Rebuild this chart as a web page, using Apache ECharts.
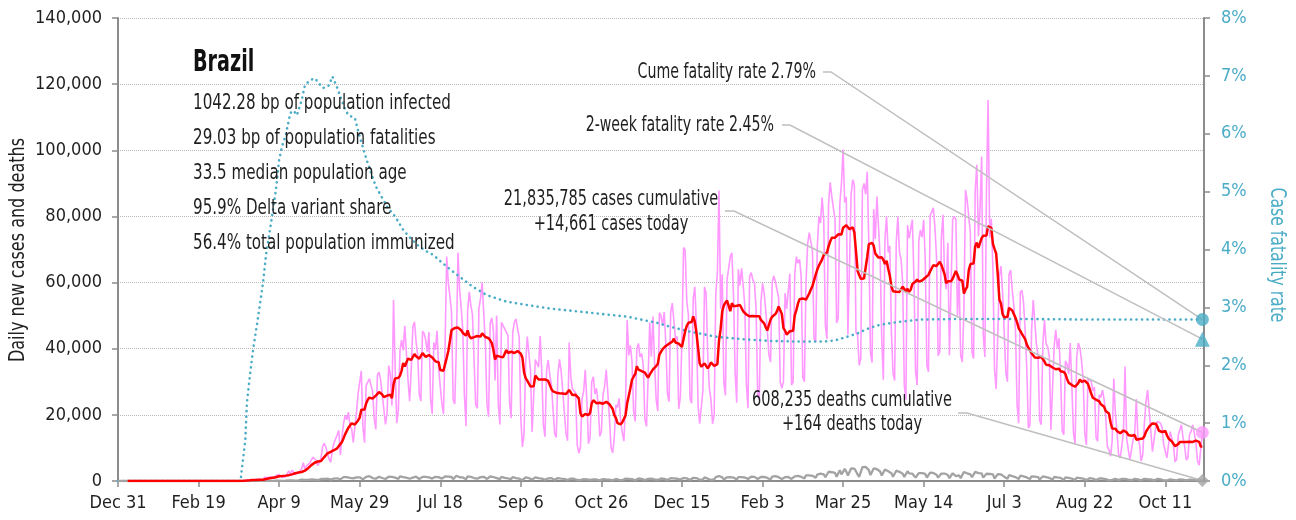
<!DOCTYPE html>
<html>
<head>
<meta charset="utf-8">
<script src="https://cdn.jsdelivr.net/npm/echarts@6/dist/echarts.min.js"></script>
<style>
  html, body { margin: 0; padding: 0; background: #ffffff; }
  #chart { width: 1296px; height: 520px; }
</style>
</head>
<body>
<div id="chart"></div>
<script>
// Brazil COVID-19: daily cases, 7-day average, daily deaths, cumulative case fatality rate

const START_UTC = Date.UTC(2019, 11, 31);   // first day on the x axis
const DAY_COUNT = 675;                        // categories on the x axis
const MONTHS = ['Jan','Feb','Mar','Apr','May','Jun','Jul','Aug','Sep','Oct','Nov','Dec'];

// Daily new cases, thousands (one row per week, Tue..Mon)
const DAILY_CASES_K = [
  0,0,0,0,0,0,0,
  0,0,0,0,0,0,0,
  0,0,0,0,0,0,0,
  0,0,0,0,0,0,0,
  0,0,0,0,0,0,0,
  0,0,0,0,0,0,0,
  0,0,0,0,0,0,0,
  0,0,0,0,0,0,0,
  0,0.001,0,0,0.001,0,0,
  0,0.001,0.005,0.005,0.006,0.007,0.005,
  0.009,0.018,0.025,0.021,0.023,0.079,0.034,
  0.057,0.137,0.193,0.283,0.224,0.418,0.345,
  0.310,0.232,0.482,0.502,0.487,0.352,0.323,
  1.138,1.119,1.074,1.146,1.222,0.852,0.926,
  1.661,2.210,1.930,1.781,1.089,1.442,1.261,
  1.832,3.058,2.105,3.257,2.917,2.055,1.927,
  2.5,2.7,3.7,5.5,3.5,4.6,4.6,
  5.4,6.3,7.2,7.0,6.2,4.6,4.1,
  6.9,10.5,11.4,10.2,10.6,6.6,5.6,
  9.3,11.4,11.7,13.9,15.3,7.9,13.1,
  17.4,19.9,18.5,20.8,16.5,15.8,11.7,
  16.3,20.6,26.4,26.9,33.3,16.4,11.6,
  28.9,28.6,30.9,30.8,27.1,18.9,15.6,
  32.1,32.9,30.4,25.9,21.7,17.1,20.6,
  34.9,32.2,22.8,54.8,34.7,17.5,21.4,
  39.4,42.7,39.5,46.9,38.7,30.5,24.1,
  33.8,46.7,48.1,42.2,38.0,26.0,24.2,
  45.3,44.6,42.6,39.0,45.0,24.8,20.3,
  41.9,39.7,45.4,34.2,28.5,23.5,20.2,
  41.0,67.9,59.9,55.9,51.1,24.6,23.3,
  40.8,69.1,57.8,52.4,45.4,25.8,16.6,
  51.6,57.2,53.1,50.2,49.9,23.0,22.0,
  52.2,55.2,60.1,50.6,41.6,23.1,19.4,
  47.8,49.3,45.3,30.4,50.0,23.4,17.1,
  48.0,47.5,46.0,45.0,44.0,24.0,19.0,
  45.0,48.0,49.0,46.0,43.5,19.0,10.3,
  14.3,35.8,43.7,43.4,33.5,14.8,15.2,
  36.7,36.8,34.4,43.8,33.1,16.9,13.4,
  33.5,36.6,31.9,29.0,28.4,14.3,13.2,
  32.1,36.8,33.4,27.2,26.7,14.5,12.2,
  41.9,31.6,27.8,27.7,26.7,10.9,8.4,
  10.2,24.8,27.2,33.6,24.1,11.3,13.3,
  30.0,31.5,26.3,28.0,23.0,13.5,15.0,
  26.1,28.6,33.6,26.7,18.9,10.1,8.5,
  13.0,23.0,22.3,25.0,18.0,14.6,12.1,
  23.9,48.7,38.0,41.0,36.0,21.0,18.0,
  40.0,41.6,37.5,38.5,35.0,18.6,16.5,
  31.0,47.9,37.6,49.7,36.0,24.5,21.1,
  50.9,49.9,46.9,51.1,41.5,26.4,24.0,
  51.1,53.8,53.3,43.0,43.7,21.8,25.2,
  42.9,70.6,69.8,54.4,50.2,25.0,23.5,
  55.2,58.7,46.7,22.8,17.3,17.6,27.2,
  58.7,56.8,38.0,28.0,24.6,17.3,20.0,
  56.6,63.0,87.8,52.0,62.5,29.8,25.9,
  61.0,60.4,67.8,69.0,56.0,33.0,23.7,
  64.0,59.1,64.3,59.1,53.1,29.1,22.0,
  61.9,63.0,60.8,59.9,52.0,26.4,24.6,
  54.1,59.8,56.9,51.5,45.5,38.0,36.0,
  60.0,62.0,60.3,57.8,55.4,30.0,28.0,
  30.0,56.8,52.0,57.6,62.7,29.0,30.0,
  62.5,67.8,65.9,67.0,61.8,31.4,30.0,
  59.9,71.7,75.1,75.3,69.6,43.0,42.0,
  70.8,80.0,78.0,85.7,79.0,47.0,43.0,
  83.9,90.3,86.0,85.7,79.1,47.8,49.3,
  84.0,89.9,100.2,84.2,85.9,44.3,44.5,
  86.7,91.1,89.5,45.0,44.0,35.0,37.0,
  88.0,90.0,86.7,93.5,71.0,38.9,35.8,
  82.2,73.2,86.0,85.7,67.6,42.9,30.6,
  73.2,80.0,69.1,71.1,45.1,32.6,30.4,
  72.1,80.0,69.0,67.0,60.0,28.9,24.6,
  77.4,73.4,73.8,79.0,61.0,33.0,29.0,
  72.7,75.9,73.7,79.0,67.0,35.0,33.0,
  80.1,80.0,82.6,76.9,67.5,37.9,39.0,
  73.5,80.5,62.0,58.0,72.0,38.0,38.6,
  79.0,80.0,79.0,50.0,62.0,37.9,36.0,
  52.0,88.0,85.0,85.0,75.0,39.0,37.0,
  88.0,95.6,74.0,82.3,98.1,44.2,37.5,
  87.8,115.2,73.6,79.3,64.1,33.7,27.8,
  43.8,62.0,65.0,57.0,57.0,33.0,30.0,
  62.5,63.8,57.7,53.0,45.6,23.0,17.5,
  57.0,57.7,54.0,45.6,34.3,16.0,17.0,
  45.6,54.7,48.1,41.4,37.8,18.4,17.0,
  41.4,48.7,41.4,40.6,37.6,15.4,15.1,
  40.7,45.7,40.1,43.2,32.0,15.1,14.0,
  36.3,35.3,32.3,41.7,28.3,14.4,11.2,
  37.6,41.7,40.2,36.3,31.0,14.5,10.9,
  31.0,31.5,30.0,27.3,28.4,13.2,12.0,
  26.1,25.3,27.5,24.7,19.4,10.5,9.5,
  7.5,12.0,31.0,20.5,15.0,8.0,7.0,
  10.6,14.8,34.6,13.0,9.5,6.5,6.6,
  12.5,14.5,24.8,13.0,11.0,6.0,8.0,
  17.5,24.0,27.5,21.0,15.0,8.9,9.0,
  16.0,18.0,18.4,17.5,16.0,11.0,9.0,
  7.0,11.0,14.9,15.0,11.0,5.8,6.5,
  13.8,15.5,17.0,13.0,10.5,6.3,7.0,
  14.0,15.0,17.0,14.5,11.5,6.0,4.8,
  4.3,14.661
];

// Daily new deaths, thousands (same weekly rows)
const DAILY_DEATHS_K = [
  0,0,0,0,0,0,0,
  0,0,0,0,0,0,0,
  0,0,0,0,0,0,0,
  0,0,0,0,0,0,0,
  0,0,0,0,0,0,0,
  0,0,0,0,0,0,0,
  0,0,0,0,0,0,0,
  0,0,0,0,0,0,0,
  0,0,0,0,0,0,0,
  0,0,0,0,0,0,0,
  0,0,0,0,0,0,0,
  0.001,0.003,0.002,0.005,0.007,0.007,0.009,
  0.012,0.011,0.020,0.015,0.022,0.022,0.023,
  0.042,0.039,0.059,0.058,0.073,0.054,0.067,
  0.114,0.133,0.141,0.115,0.068,0.099,0.105,
  0.204,0.204,0.188,0.217,0.213,0.115,0.113,
  0.166,0.165,0.407,0.357,0.346,0.189,0.338,
  0.474,0.449,0.435,0.428,0.421,0.275,0.296,
  0.600,0.615,0.610,0.751,0.730,0.496,0.396,
  0.881,0.749,0.844,0.824,0.816,0.485,0.674,
  1.179,0.888,1.188,1.001,0.965,0.653,0.807,
  1.039,1.086,1.156,1.124,0.956,0.480,0.623,
  1.262,1.349,1.473,1.005,0.904,0.525,0.679,
  1.272,1.274,1.239,0.909,0.892,0.612,0.627,
  1.282,1.269,1.238,1.206,1.022,0.641,0.654,
  1.374,1.185,1.141,1.109,0.990,0.552,0.692,
  1.280,1.038,1.252,1.290,1.091,0.602,0.620,
  1.254,1.223,1.220,1.214,1.071,0.631,0.733,
  1.300,1.261,1.233,1.163,0.921,0.716,0.632,
  1.367,1.284,1.311,1.156,1.211,0.555,0.627,
  1.595,1.554,1.129,1.212,1.088,0.541,0.561,
  1.394,1.437,1.226,1.079,0.905,0.572,0.703,
  1.274,1.175,1.060,1.262,0.709,0.620,0.684,
  1.365,1.212,1.204,1.024,0.892,0.494,0.565,
  1.271,1.085,0.970,0.855,0.758,0.366,0.553,
  1.215,1.184,0.888,0.814,0.682,0.447,0.310,
  0.482,1.075,0.983,0.874,0.815,0.431,0.460,
  1.113,1.000,0.858,0.829,0.739,0.335,0.377,
  0.869,0.809,0.729,0.831,0.729,0.363,0.317,
  0.863,0.729,0.734,0.706,0.651,0.306,0.300,
  0.734,0.734,0.754,0.674,0.546,0.309,0.211,
  0.286,0.716,0.591,0.571,0.461,0.230,0.309,
  0.566,0.497,0.508,0.451,0.432,0.201,0.231,
  0.571,0.510,0.496,0.441,0.428,0.190,0.179,
  0.334,0.609,0.437,0.355,0.238,0.247,0.232,
  0.710,0.908,0.650,0.440,0.587,0.275,0.216,
  0.676,0.754,0.638,0.656,0.562,0.302,0.350,
  0.630,0.698,0.691,0.597,0.483,0.272,0.317,
  0.697,0.755,0.672,0.667,0.654,0.313,0.376,
  0.842,0.837,0.770,0.686,0.686,0.279,0.433,
  0.964,0.936,1.092,0.798,0.706,0.289,0.471,
  0.968,0.963,0.899,0.501,0.341,0.328,0.476,
  1.111,1.074,0.706,0.462,0.314,0.293,0.513,
  1.171,1.242,1.524,1.035,1.092,0.469,0.484,
  1.110,1.274,1.151,1.131,1.050,0.551,0.452,
  1.183,1.340,1.181,1.096,1.054,0.592,0.627,
  1.214,1.283,1.386,1.239,0.953,0.595,0.524,
  1.209,1.239,1.232,1.232,0.924,0.472,0.452,
  1.330,1.351,1.452,1.308,1.149,0.713,0.612,
  0.658,1.167,1.367,1.212,1.202,0.618,0.631,
  1.386,1.428,1.541,1.386,1.275,0.721,0.778,
  1.726,1.840,1.699,1.800,1.555,1.086,0.987,
  1.954,2.349,2.207,2.216,1.997,1.127,1.188,
  2.798,2.736,2.648,2.815,2.438,1.290,1.383,
  3.251,2.009,2.777,3.650,2.821,1.656,1.660,
  3.780,3.869,3.769,2.922,1.987,1.240,1.623,
  4.195,3.829,4.249,3.693,3.305,1.803,1.480,
  3.808,3.459,3.560,3.305,2.865,1.657,1.347,
  3.472,3.163,2.914,2.751,2.345,1.305,1.293,
  3.120,3.163,2.777,2.561,2.226,1.202,1.145,
  2.966,2.311,2.572,2.202,1.942,1.025,0.887,
  2.383,2.311,2.383,2.307,2.128,1.052,1.033,
  2.507,2.641,2.451,2.173,1.878,1.026,0.860,
  2.245,2.311,2.245,1.991,1.803,0.880,0.859,
  2.346,2.507,1.454,1.594,1.689,0.873,0.935,
  2.723,2.693,2.311,2.219,2.017,1.129,0.953,
  2.760,2.997,2.392,2.131,2.301,1.025,0.966,
  2.198,2.392,2.123,2.040,1.990,0.739,0.643,
  2.081,1.879,1.972,1.624,1.308,0.830,0.695,
  1.780,1.648,1.450,1.433,1.172,0.571,0.595,
  1.592,1.553,1.403,1.299,1.088,0.542,0.578,
  1.424,1.324,1.314,1.131,1.151,0.465,0.578,
  1.366,1.254,1.149,0.985,0.923,0.389,0.441,
  1.209,1.119,1.069,0.924,0.946,0.389,0.324,
  1.064,0.985,0.949,0.863,0.752,0.386,0.300,
  1.011,0.996,0.898,0.871,0.739,0.299,0.262,
  0.800,0.847,0.796,0.707,0.648,0.289,0.279,
  0.758,0.685,0.750,0.620,0.548,0.264,0.215,
  0.237,0.325,0.693,0.626,0.440,0.244,0.238,
  0.621,0.720,0.661,0.612,0.433,0.256,0.238,
  0.583,0.639,0.648,0.488,0.485,0.183,0.225,
  0.655,0.598,0.532,0.523,0.486,0.190,0.177,
  0.530,0.598,0.556,0.536,0.445,0.208,0.176,
  0.146,0.352,0.491,0.521,0.356,0.180,0.203,
  0.370,0.463,0.433,0.434,0.376,0.160,0.161,
  0.436,0.400,0.373,0.406,0.272,0.121,0.130,
  0.090,0.164
];

// Cumulative case fatality rate, percent: [day index, rate]
const CFR_POINTS = [
  [0,0],[10,0],[20,0],[30,0],[40,0],[50,0],[60,0],[70,0],[76,0],
  [79,0.7],[80,1.35],[82,1.85],[84,2.3],[87,2.84],[90,3.42],[92,3.94],[95,4.46],
  [98,5.03],[100,5.55],[102,5.8],[104,5.97],[107,6.36],[109,6.4],[111,6.32],
  [114,6.58],[116,6.84],[119,6.92],[122,6.96],[124,6.9],[127,6.79],[129,6.8],
  [131,6.84],[133,6.99],[134,6.97],[136,6.8],[138,6.64],[141,6.42],[143,6.32],
  [147,6.27],[150,5.95],[155,5.49],[160,5.09],[167,4.74],[172,4.57],[177,4.34],
  [182,4.18],[187,4.05],[192,3.96],[196,3.9],[200,3.8],[206,3.66],[212,3.53],
  [220,3.36],[229,3.21],[241,3.1],[254,3.04],[268,2.98],[282,2.94],[299,2.89],
  [316,2.84],[328,2.77],[335,2.73],[342,2.67],[355,2.58],[372,2.49],[388,2.45],
  [405,2.42],[421,2.41],[438,2.41],[445,2.43],[450,2.47],[459,2.55],[466,2.64],
  [473,2.7],[485,2.75],[498,2.79],[523,2.8],[560,2.8],[600,2.79],[640,2.79],[673,2.79]
];

// Latest-day figures
const CUME_CASES = 21835785;
const CUME_DEATHS = 608235;
const TODAY_CASES = 14661;
const TODAY_DEATHS = 164;
const CUME_CFR = 2.79;
const TWO_WEEK_CFR = 2.45;

const COUNTRY = 'Brazil';
const STATS = [
  '1042.28 bp of population infected',
  '29.03 bp of population fatalities',
  '33.5 median population age',
  '95.9% Delta variant share',
  '56.4% total population immunized'
];

const LEFT_TICKS = { min: 0, max: 140000, interval: 20000 };
const RIGHT_TICKS = { min: 0, max: 8, interval: 1 };
const LEFT_NAME = 'Daily new cases and deaths';
const RIGHT_NAME = 'Case fatality rate';

// ---- derived tables ----
const dates = [];
for (let i = 0; i < DAY_COUNT; i++) {
  const d = new Date(START_UTC + i * 86400000);
  dates.push(MONTHS[d.getUTCMonth()] + ' ' + d.getUTCDate());
}
const dailyCases = DAILY_CASES_K.map(v => Math.round(v * 1000));
const dailyDeaths = DAILY_DEATHS_K.map(v => Math.round(v * 1000));
const avgCases = dailyCases.map((v, i) => {
  if (i < 6) return null;
  let s = 0;
  for (let k = i - 6; k <= i; k++) s += dailyCases[k];
  return Math.round(s / 7);
});
const lastIdx = dailyCases.length - 1;
const fmt = n => n.toLocaleString('en-US');

const FONT = "'DejaVu Sans Condensed', 'Liberation Sans Narrow', sans-serif";
const INK = '#1f1f1f';
const AXIS = '#8c8c8c';
const PINK = '#FF99FF';
const RED = '#FF0000';
const BLUE = '#4BACC6';
const GRAY = '#A3A3A3';
const LEADER = '#BFBFBF';

const chart = echarts.init(document.getElementById('chart'), null, { renderer: 'canvas' });

const option = {
  animation: false,
  backgroundColor: '#ffffff',
  textStyle: { fontFamily: FONT },
  grid: { left: 118, right: 92, top: 18, bottom: 39, containLabel: false, outerBoundsMode: 'none' },
  xAxis: {
    type: 'category',
    data: dates,
    boundaryGap: false,
    axisLine: { lineStyle: { color: AXIS, width: 2 } },
    axisTick: { interval: 49, length: 6, lineStyle: { color: AXIS, width: 1.5 } },
    axisLabel: { interval: 49, color: INK, fontSize: 18, margin: 13, fontFamily: FONT },
    splitLine: { show: false }
  },
  yAxis: [
    {
      type: 'value',
      position: 'left',
      min: LEFT_TICKS.min, max: LEFT_TICKS.max, interval: LEFT_TICKS.interval,
      axisLine: { show: true, lineStyle: { color: AXIS, width: 2 } },
      axisTick: { show: true, length: 6, lineStyle: { color: AXIS, width: 1.5 } },
      axisLabel: { color: INK, fontSize: 18, margin: 16, fontFamily: FONT, formatter: v => fmt(v) },
      splitLine: { show: true, lineStyle: { color: '#b8b8b8', type: 'dotted', width: 1 } }
    },
    {
      type: 'value',
      position: 'right',
      min: RIGHT_TICKS.min, max: RIGHT_TICKS.max, interval: RIGHT_TICKS.interval,
      axisLine: { show: true, lineStyle: { color: AXIS, width: 2 } },
      axisTick: { show: true, length: 6, lineStyle: { color: AXIS, width: 1.5 } },
      axisLabel: { color: BLUE, fontSize: 18, margin: 17, fontFamily: FONT, formatter: '{value}%' },
      splitLine: { show: false }
    }
  ],
  series: [
    {
      name: 'Daily cases', type: 'line', data: dailyCases, yAxisIndex: 0,
      showSymbol: false, symbol: 'none', z: 1,
      lineStyle: { color: PINK, width: 1.6 }
    },
    {
      name: 'Case fatality rate', type: 'line', data: CFR_POINTS, yAxisIndex: 1,
      showSymbol: false, symbol: 'none', z: 2,
      lineStyle: { color: BLUE, width: 2.6, type: [0.1, 5.4], cap: 'round' }
    },
    {
      name: 'Daily deaths', type: 'line', data: dailyDeaths, yAxisIndex: 0,
      showSymbol: false, symbol: 'none', z: 3,
      lineStyle: { color: GRAY, width: 2.3 }
    },
    {
      name: '7-day average cases', type: 'line', data: avgCases, yAxisIndex: 0,
      showSymbol: false, symbol: 'none', z: 4, connectNulls: false,
      lineStyle: { color: RED, width: 2.5 }
    },
    {
      name: 'Cases today', type: 'scatter', yAxisIndex: 0, z: 10,
      data: [[lastIdx, TODAY_CASES]], symbol: 'circle', symbolSize: 13,
      itemStyle: { color: PINK }
    },
    {
      name: 'Deaths today', type: 'scatter', yAxisIndex: 0, z: 10,
      data: [[lastIdx, TODAY_DEATHS]], symbol: 'diamond', symbolSize: 13,
      itemStyle: { color: GRAY }
    },
    {
      name: 'Cume fatality rate', type: 'scatter', yAxisIndex: 1, z: 10,
      data: [[lastIdx, CUME_CFR]], symbol: 'circle', symbolSize: 13,
      itemStyle: { color: BLUE }
    },
    {
      name: '2-week fatality rate', type: 'scatter', yAxisIndex: 1, z: 10,
      data: [[lastIdx, TWO_WEEK_CFR]], symbol: 'triangle', symbolSize: 15,
      itemStyle: { color: BLUE }
    }
  ]
};

chart.setOption(option);

// Text blocks, axis titles and leader lines (leader ends resolved through the axes)
const onLeft = v => chart.convertToPixel({ xAxisIndex: 0, yAxisIndex: 0 }, v);
const onRight = v => chart.convertToPixel({ xAxisIndex: 0, yAxisIndex: 1 }, v);

// condensed-looking text: a tall face squeezed along its baseline
function text(str, x, y, size, squeeze, opts) {
  opts = opts || {};
  return {
    type: 'text', z: 20, silent: true,
    x: x, y: y, scaleX: squeeze, scaleY: 1, rotation: opts.rotation || 0,
    style: {
      text: str, x: 0, y: 0, fill: opts.fill || INK,
      font: (opts.weight ? opts.weight + ' ' : '') + size + 'px ' + FONT,
      textAlign: opts.align || 'left', textVerticalAlign: 'middle'
    }
  };
}
function leader(x0, y0, x1, end) {
  return {
    type: 'polyline', z: 6, silent: true,
    shape: { points: [[x0, y0], [x1, y0], end] },
    style: { stroke: LEADER, lineWidth: 1.5, fill: null }
  };
}

const graphics = [
  text(COUNTRY, 193, 63, 30, 0.71, { weight: 'bold', fill: '#111111' }),
  text(LEFT_NAME, 18, 250, 22, 0.81, { align: 'center', rotation: Math.PI / 2 }),
  text(RIGHT_NAME, 1277, 255, 22, 0.79, { align: 'center', rotation: -Math.PI / 2, fill: BLUE })
];
STATS.forEach((s, i) => graphics.push(text(s, 193, 103 + i * 35, 22, 0.765)));

graphics.push(text('Cume fatality rate ' + CUME_CFR.toFixed(2) + '%', 816, 73, 21, 0.75, { align: 'right' }));
graphics.push(text('2-week fatality rate ' + TWO_WEEK_CFR.toFixed(2) + '%', 774, 126, 21, 0.75, { align: 'right' }));
graphics.push(text(fmt(CUME_CASES) + ' cases cumulative', 611, 200, 21, 0.77, { align: 'center' }));
graphics.push(text('+' + fmt(TODAY_CASES) + ' cases today', 611, 225, 21, 0.77, { align: 'center' }));
graphics.push(text(fmt(CUME_DEATHS) + ' deaths cumulative', 852, 401, 21, 0.77, { align: 'center' }));
graphics.push(text('+' + fmt(TODAY_DEATHS) + ' deaths today', 852, 425, 21, 0.77, { align: 'center' }));

graphics.push(leader(823, 72, 831, onRight([lastIdx, CUME_CFR])));
graphics.push(leader(782, 125, 790, onRight([lastIdx, TWO_WEEK_CFR])));
graphics.push(leader(725, 211, 734, onLeft([lastIdx, TODAY_CASES])));
graphics.push(leader(958, 413, 967, onLeft([lastIdx, TODAY_DEATHS])));

chart.setOption({ graphic: graphics });
</script>
</body>
</html>
